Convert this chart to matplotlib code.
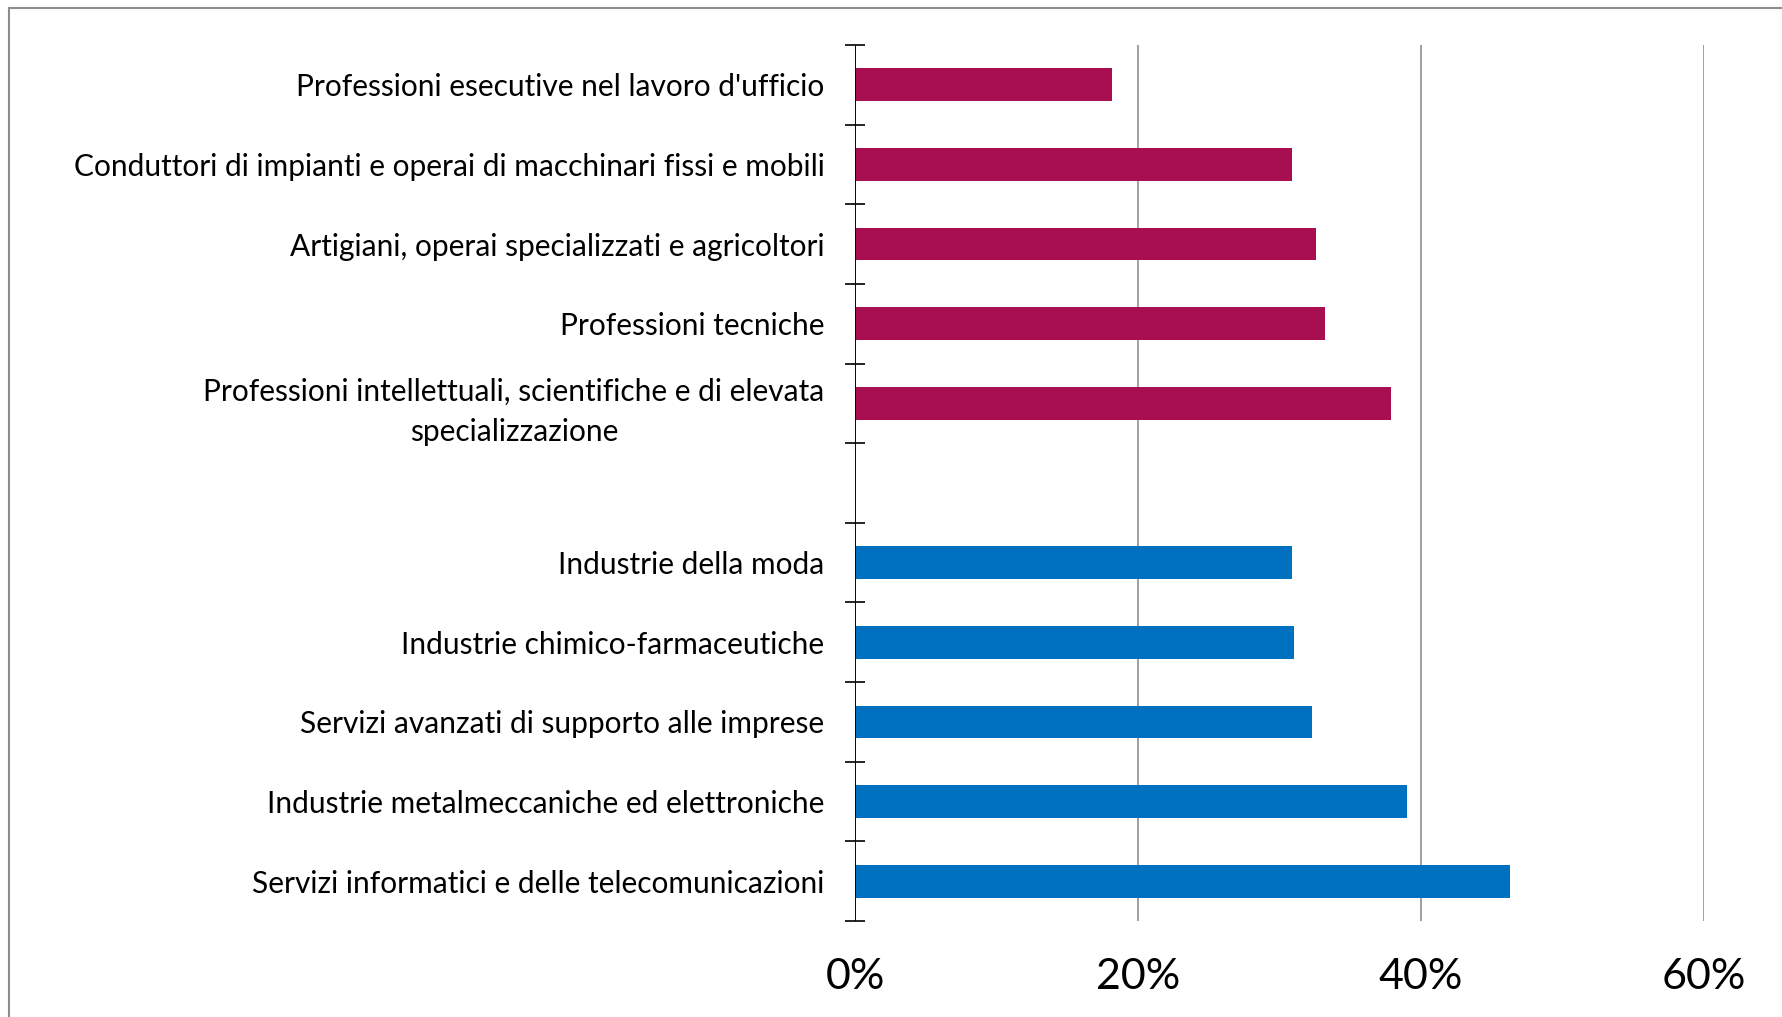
import matplotlib.pyplot as plt
from matplotlib.lines import Line2D
from matplotlib.ticker import FixedLocator, FuncFormatter

# percent values, bottom to top
settori = [
    "Servizi informatici e delle telecomunicazioni",
    "Industrie metalmeccaniche ed elettroniche",
    "Servizi avanzati di supporto alle imprese",
    "Industrie chimico-farmaceutiche",
    "Industrie della moda",
]
settori_val = [46.3, 39.0, 32.3, 31.0, 30.9]

professioni = [
    "Professioni intellettuali, scientifiche e di elevata\nspecializzazione",
    "Professioni tecniche",
    "Artigiani, operai specializzati e agricoltori",
    "Conduttori di impianti e operai di macchinari fissi e mobili",
    "Professioni esecutive nel lavoro d'ufficio",
]
professioni_val = [37.9, 33.2, 32.6, 30.9, 18.2]

x_ticks = [0, 20, 40, 60]

plt.rcParams["font.family"] = ["Lato", "DejaVu Sans"]

fig = plt.figure(figsize=(17.83, 10.17), dpi=100)
ax = fig.add_axes([0.4795, 0.0944, 0.9557 - 0.4795, 0.9558 - 0.0944])

pos_s = list(range(len(settori)))
pos_p = [len(settori) + 1 + i for i in range(len(professioni))]

ax.barh(pos_s, settori_val, height=0.41, color="#0070C0", zorder=3)
ax.barh(pos_p, professioni_val, height=0.41, color="#A80F50", zorder=3)

n_slots = len(settori) + 1 + len(professioni)
ax.set_ylim(-0.5, n_slots - 0.5)
ax.set_xlim(0, 60)

# boundary ticks on the category axis, labels centred on the bars
ax.yaxis.set_major_locator(FixedLocator([i - 0.5 for i in range(n_slots + 1)]))
ax.yaxis.set_major_formatter(FuncFormatter(lambda v, p: ""))
ax.set_yticks(pos_s + pos_p, settori + professioni, minor=True)
ax.tick_params(axis="y", which="major", direction="inout", length=14.4, width=1.2, color="black")
ax.tick_params(axis="y", which="minor", length=0, pad=22, labelsize=21.5)
for lab in ax.get_yticklabels(minor=True):
    lab.set_multialignment("center")
    lab.set_linespacing(1.52)

ax.set_xticks(x_ticks, [f"{t}%" for t in x_ticks])
ax.tick_params(axis="x", length=0, pad=27, labelsize=31)

ax.grid(axis="x", color="#999999", linewidth=1.3, zorder=0)
ax.axvline(0, color="black", linewidth=1.3, zorder=4)
for s in ax.spines.values():
    s.set_visible(False)

# outer frame of the original chart area
fig.add_artist(Line2D([9 / 1783, 9 / 1783], [0, 1 - 8 / 1017], color="#8c8c8c", linewidth=1.5))
fig.add_artist(Line2D([9 / 1783, 1], [1 - 8 / 1017, 1 - 8 / 1017], color="#8c8c8c", linewidth=1.5))

fig.savefig("out.png", dpi=100)
